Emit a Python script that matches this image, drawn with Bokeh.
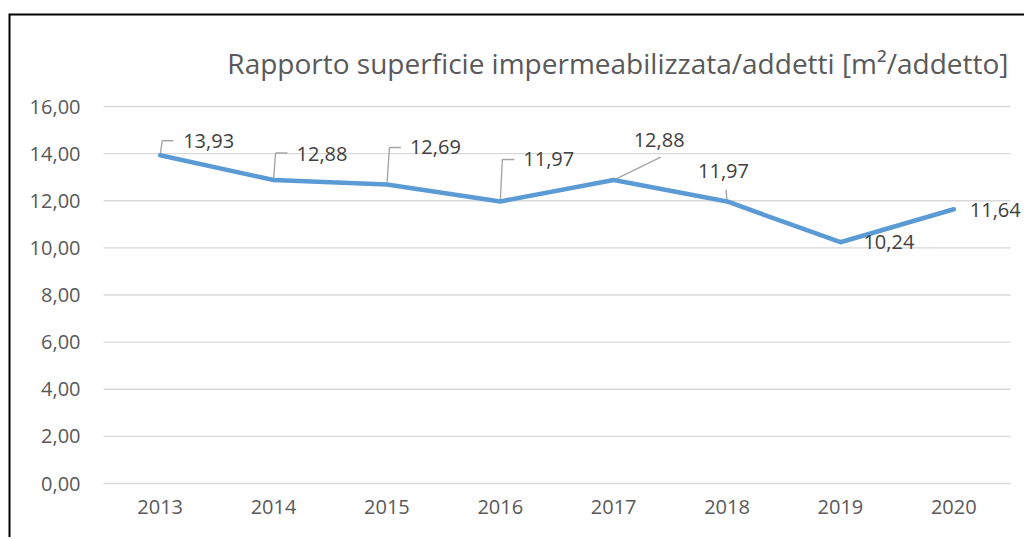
from bokeh.plotting import figure
from bokeh.models import ColumnDataSource, FixedTicker, Label, Range1d
from bokeh.core.properties import value
from bokeh.embed import file_html
from bokeh.resources import INLINE

# ---- data ----
years = ["2013", "2014", "2015", "2016", "2017", "2018", "2019", "2020"]
values = [13.93, 12.88, 12.69, 11.97, 12.88, 11.97, 10.24, 11.64]
value_labels = ["13,93", "12,88", "12,69", "11,97", "12,88", "11,97", "10,24", "11,64"]
y_ticks = [0, 2, 4, 6, 8, 10, 12, 14, 16]
y_tick_labels = ["0,00", "2,00", "4,00", "6,00", "8,00", "10,00", "12,00", "14,00", "16,00"]
title_text = "Rapporto superficie impermeabilizzata/addetti [m\u00b2/addetto]"

# ---- label placement (pixel offsets, styles) ----
label_dx = [23, 23, 23, 23, 20, -29, 23, 16]
label_dy = [14, 26.5, 37, 42, 40.5, 30, 0, -1]   # upward
# leader lines: pixel offsets relative to the point (x right, y up)
leaders = [
    [(0, 0), (2, 14.5), (13, 14.5)],
    [(0, 0), (2, 27), (14, 27)],
    [(0, 0), (2.5, 37), (14, 37)],
    [(0, 0), (2, 42), (14, 42)],
    [(0, 0), (47, 23)],
    [(0, 0), (-1, 12)],
    None,
    None,
]

# ---- layout (pixels) ----
W, H = 1024, 537
n = len(years)
px_x = 907 / n          # pixels per category
px_y = 377 / 16         # pixels per unit
GX0, GY0 = 103, 483     # pixel position of the plot area's left / zero line
x_start = -0.5 - GX0 / px_x
x_end = x_start + W / px_x
y_end = 16 + 106 / px_y
y_start = y_end - H / px_y

def xpx(px):  # pixel column -> data x
    return x_start + px / px_x

def ypx(py):  # pixel row (from top) -> data y
    return y_end - py / px_y

p = figure(width=W, height=H, output_backend="svg", toolbar_location=None, tools="",
           x_range=Range1d(x_start, x_end), y_range=Range1d(y_start, y_end),
           min_border=0)
p.min_border_left = p.min_border_right = p.min_border_top = p.min_border_bottom = 0
p.outline_line_color = None
p.background_fill_color = "white"
p.border_fill_color = "white"

# axes drawn at fixed positions inside the chart area
xs = list(range(n))
p.xaxis.ticker = FixedTicker(ticks=xs)
p.xaxis.major_label_overrides = {i: y for i, y in zip(xs, years)}
p.xaxis.fixed_location = 0
p.yaxis.ticker = FixedTicker(ticks=y_ticks)
p.yaxis.major_label_overrides = {t: l for t, l in zip(y_ticks, y_tick_labels)}
p.yaxis.fixed_location = -0.5
for ax in (p.xaxis, p.yaxis):
    ax.axis_line_color = None
    ax.major_tick_line_color = None
    ax.minor_tick_line_color = None
    ax.major_label_text_font = "Open Sans"
    ax.major_label_text_font_size = "20px"
    ax.major_label_text_color = "#595959"
p.yaxis.major_label_standoff = 17
p.xaxis.major_label_standoff = 10

# horizontal gridlines over the category band
p.xgrid.grid_line_color = None
p.ygrid.grid_line_color = None
p.multi_line(xs=[[-0.5, n - 0.5] for _ in y_ticks], ys=[[t, t] for t in y_ticks],
             line_color="#D9D9D9", line_width=1.3)

# chart border (left and top edges; right and bottom lie outside the window)
p.line(x=[xpx(9), xpx(9), x_end], y=[y_start, ypx(14), ypx(14)],
       line_color="#000000", line_width=2, line_join="miter")

# title
p.add_layout(Label(x=xpx(1008), y=ypx(62), text=title_text,
                   text_font="Open Sans", text_font_size="28px",
                   text_color="#595959", text_align="right",
                   text_baseline="alphabetic"))

# leader lines
lx, ly = [], []
for i, (v, ld) in enumerate(zip(values, leaders)):
    if ld is None:
        continue
    lx.append([i + dx / px_x for dx, dy in ld])
    ly.append([v + dy / px_y for dx, dy in ld])
p.multi_line(lx, ly, line_color="#A6A6A6", line_width=1.4)

# series line
src = ColumnDataSource(dict(x=xs, y=values, lab=value_labels, dx=label_dx,
                            ndy=[-d for d in label_dy]))
p.line("x", "y", source=src, line_color="#5B9BD5", line_width=4.5,
       line_cap="round", line_join="round")

# data labels (text glyph; y_offset is screen-down)
p.text(x="x", y="y", text="lab", source=src, x_offset="dx", y_offset="ndy",
       text_font=value("Open Sans"), text_font_size=value("20px"),
       text_color="#404040", text_align="left", text_baseline="middle")

open("out.html", "w").write(file_html(p, INLINE))
